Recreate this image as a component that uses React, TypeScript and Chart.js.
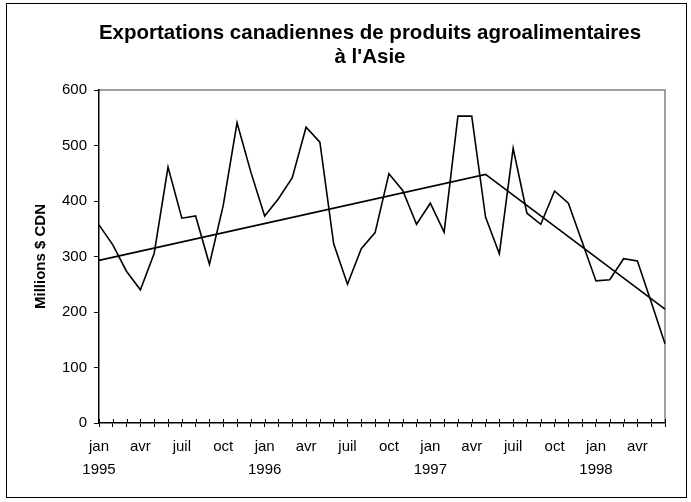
import React, { useEffect, useRef } from 'react';
import { Chart, registerables } from 'chart.js';

Chart.register(...registerables);

const titleLines = ['Exportations canadiennes de produits agroalimentaires', "à l'Asie"];
const yAxisTitle = 'Millions $ CDN';
const monthNames = ['jan', 'fév', 'mars', 'avr', 'mai', 'juin', 'juil', 'août', 'sept', 'oct', 'nov', 'déc'];
const years = ['1995', '1996', '1997', '1998'];
const monthCount = 42;

// Monthly exports (millions $ CDN), jan 1995 .. juin 1998
const exportValues = [
  357, 321, 273, 240, 306, 461, 369, 373, 286, 392, 541, 452,
  373, 404, 442, 533, 506, 323, 250, 314, 343, 449, 419, 358,
  396, 344, 553, 553, 371, 305, 495, 378, 358, 418, 396, 326,
  256, 258, 296, 292, 218, 143,
];

// Trend line break points (category index, value)
const trendIndex = [0, 28, 41];
const trendValues = [293, 448, 205];

const yTicks = [0, 100, 200, 300, 400, 500, 600];

const categories = Array.from({ length: monthCount }, (_, i) =>
  `${monthNames[i % 12]} ${years[Math.floor(i / 12)]}`
);

const trendData: (number | null)[] = categories.map((_, i) => {
  const k = trendIndex.indexOf(i);
  return k >= 0 ? trendValues[k] : null;
});

const FONT = 'Arial, "Liberation Sans", sans-serif';

const framePlugin = {
  id: 'frame',
  beforeDraw(chart: any) {
    const { ctx, chartArea } = chart;
    ctx.save();
    ctx.fillStyle = '#ffffff';
    ctx.fillRect(0, 0, chart.width, chart.height);
    ctx.strokeStyle = '#000000';
    ctx.lineWidth = 1;
    ctx.strokeRect(6.5, 3.5, 680, 494);
    // plot area frame (top/right grey)
    ctx.strokeStyle = '#808080';
    ctx.lineWidth = 1.5;
    ctx.beginPath();
    ctx.moveTo(chartArea.left, chartArea.top);
    ctx.lineTo(chartArea.right, chartArea.top);
    ctx.lineTo(chartArea.right, chartArea.bottom);
    ctx.stroke();
    // title
    ctx.fillStyle = '#000000';
    ctx.font = `bold 20.5px ${FONT}`;
    ctx.textAlign = 'center';
    ctx.textBaseline = 'middle';
    ctx.fillText(titleLines[0], 370, 33);
    ctx.fillText(titleLines[1], 370, 57);
    ctx.restore();
  },
  afterDraw(chart: any) {
    const { ctx, chartArea } = chart;
    const xs = chart.scales.x;
    ctx.save();
    ctx.strokeStyle = '#000000';
    ctx.lineWidth = 1;
    for (let i = 0; i < xs.ticks.length; i++) {
      const px = Math.round(xs.getPixelForTick(i)) + 0.5;
      ctx.beginPath();
      ctx.moveTo(px, chartArea.bottom - 4);
      ctx.lineTo(px, chartArea.bottom);
      ctx.stroke();
    }
    ctx.restore();
  },
};

export default function App() {
  const canvasRef = useRef<HTMLCanvasElement | null>(null);

  useEffect(() => {
    const canvas = canvasRef.current;
    if (!canvas) return;
    const chart = new Chart(canvas, {
      type: 'line',
      data: {
        labels: categories,
        datasets: [
          {
            label: 'Exportations',
            data: exportValues,
            borderColor: '#000000',
            borderWidth: 1.6,
            pointRadius: 0,
            tension: 0,
            fill: false,
          },
          {
            label: 'Tendance',
            data: trendData,
            borderColor: '#000000',
            borderWidth: 1.6,
            pointRadius: 0,
            tension: 0,
            spanGaps: true,
            fill: false,
          },
        ],
      },
      options: {
        animation: false,
        responsive: false,
        maintainAspectRatio: false,
        layout: { padding: { left: 0, right: 26, top: 90, bottom: 0 } },
        plugins: {
          legend: { display: false },
          title: { display: false },
          tooltip: { enabled: false },
        },
        scales: {
          x: {
            type: 'category',
            offset: false,
            grid: {
              display: true,
              drawOnChartArea: false,
              drawTicks: true,
              tickLength: 4,
              color: '#000000',
              lineWidth: 1,
            },
            border: { display: true, color: '#000000', width: 1.5 },
            ticks: {
              autoSkip: false,
              maxRotation: 0,
              minRotation: 0,
              padding: 9,
              color: '#000000',
              font: { family: FONT, size: 15, lineHeight: 1.5 },
              callback: (_v: any, i: number) => {
                if (i % 3 !== 0) return '';
                const m = monthNames[i % 12];
                return i % 12 === 0 ? [m, years[i / 12]] : m;
              },
            },
            afterFit: (scale: any) => {
              scale.height = 79;
            },
          },
          y: {
            min: 0,
            max: 600,
            afterBuildTicks: (scale: any) => {
              scale.ticks = yTicks.map((v) => ({ value: v }));
            },
            grid: {
              display: true,
              drawOnChartArea: false,
              drawTicks: true,
              tickLength: 5,
              color: '#000000',
              lineWidth: 1,
            },
            border: { display: true, color: '#000000', width: 1.5 },
            ticks: {
              padding: 7,
              color: '#000000',
              font: { family: FONT, size: 15 },
            },
            title: {
              display: true,
              text: yAxisTitle,
              color: '#000000',
              font: { family: FONT, size: 15, weight: 'bold' },
              padding: { top: 32, bottom: 0 },
            },
            afterFit: (scale: any) => {
              scale.width = 99;
            },
          },
        },
      },
      plugins: [framePlugin],
    });
    return () => chart.destroy();
  }, []);

  return (
    <div style={{ position: 'absolute', left: 0, top: 0, width: 691, height: 502, background: '#fff' }}>
      <canvas ref={canvasRef} width={691} height={502} style={{ display: 'block', width: 691, height: 502 }} />
    </div>
  );
}
